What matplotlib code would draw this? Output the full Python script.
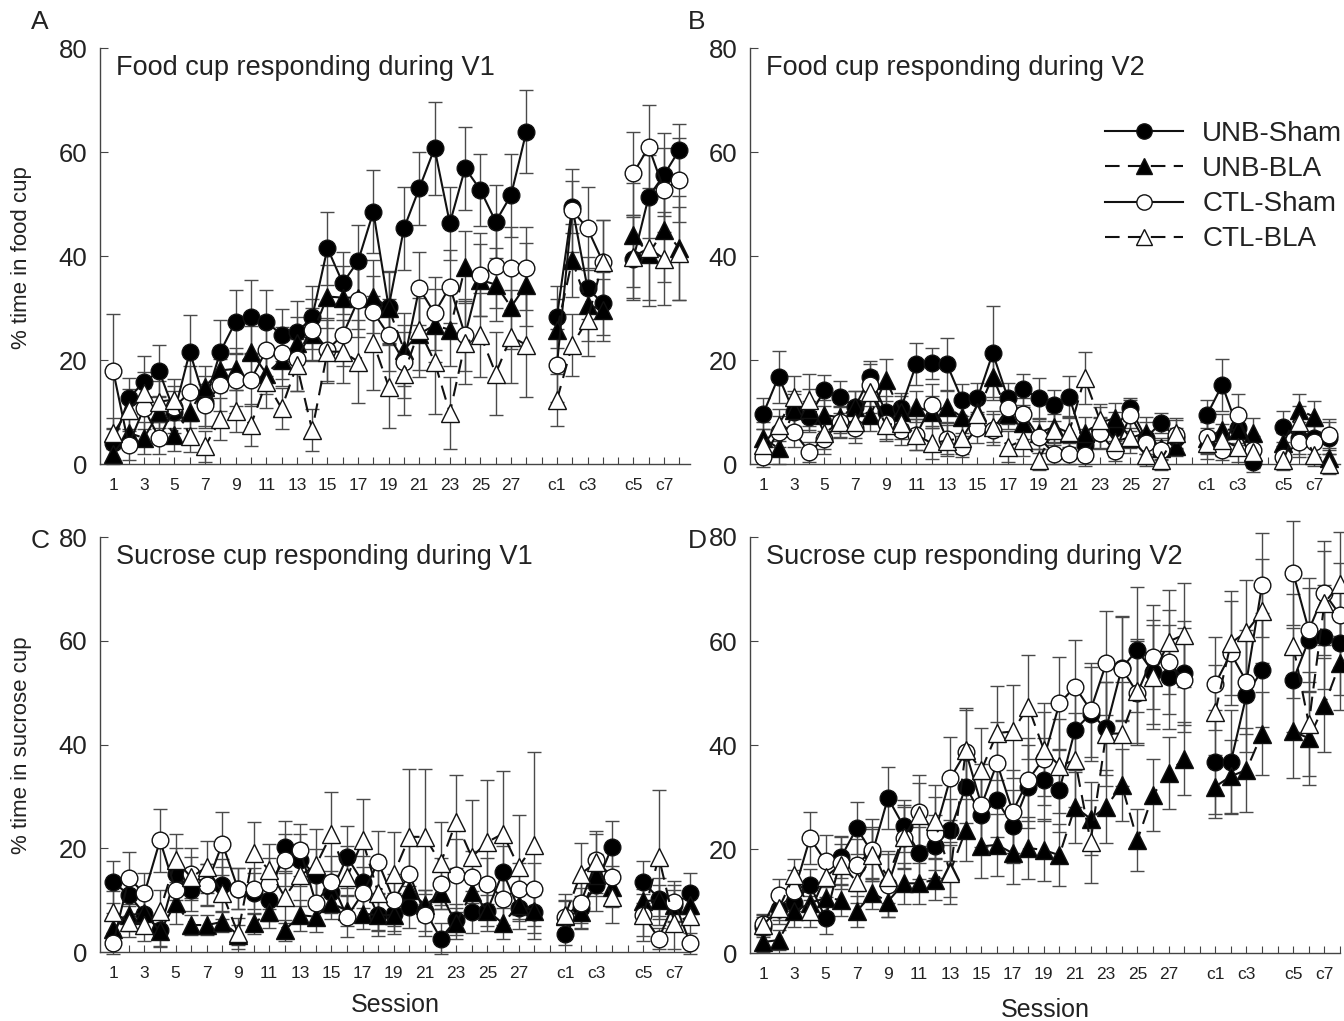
import matplotlib
matplotlib.use("Agg")
import matplotlib.pyplot as plt
from matplotlib.lines import Line2D

plt.rcParams['font.family'] = ['Liberation Sans', 'DejaVu Sans']

# session labels: 28 training sessions, then c1-c4 and c5-c8 blocks
session_labels = [str(i) for i in range(1, 29)] + ['c%d' % i for i in range(1, 9)]
groups = ['UNB-Sham', 'UNB-BLA', 'CTL-Sham', 'CTL-BLA']

# ---- panel A: food cup during V1
a_unb_sham = [4, 12.6, 15.8, 17.8, 10, 21.6, 12, 21.6, 27.4, 28.3, 27.4, 24.8, 25.3, 28.2, 41.5, 34.8, 39.0, 48.5, 30.2, 45.3, 53.0, 60.7, 46.3, 56.9, 52.7, 46.6, 51.7, 63.9, 28.3, 49.5, 33.8, 30.9, 39.5, 51.4, 55.6, 60.4]
a_unb_bla = [2, 6, 5, 10, 5.5, 10, 14.9, 18, 18.3, 21.6, 17.4, 20, 23.3, 25, 32.2, 32, 32, 32.2, 30, 22, 25, 26.7, 25.8, 37.9, 35.4, 34.5, 30.2, 34.5, 25.8, 39.2, 30.6, 29.6, 44, 40.4, 45, 41.5]
a_ctl_sham = [17.8, 3.7, 10.7, 5.0, 11, 13.8, 11.4, 15.2, 16.2, 16.2, 21.9, 21.3, 20.1, 25.8, 22, 24.8, 31.5, 29.2, 24.8, 19.7, 33.8, 29, 34.1, 24.8, 36.4, 38, 37.6, 37.6, 19, 48.8, 45.3, 38.9, 55.9, 61, 52.7, 54.6]
a_ctl_bla = [5.9, 10.4, 13.6, 12, 12.4, 5.3, 3.4, 8.6, 10.2, 7.5, 15.8, 10.7, 19, 6.5, 21.6, 21.6, 19.7, 23.3, 14.9, 17.4, 25.8, 19.7, 9.8, 23.3, 24.8, 17.4, 24.5, 22.9, 12.3, 22.9, 27.7, 38.9, 39.9, 41.5, 39.5, 40.5]
a_unb_sham_err = [3, 4, 5, 5, 4, 7, 5, 6, 6, 7, 6, 5, 6, 6, 7, 6, 7, 8, 7, 8, 7, 9, 7, 8, 7, 7, 8, 8, 6, 5, 6, 6, 8, 8, 8, 5]
a_unb_bla_err = [2, 3, 3, 3, 3, 3, 4, 4, 4, 5, 4, 5, 5, 5, 6, 6, 6, 7, 7, 7, 7, 7, 7, 7, 7, 7, 8, 8, 6, 7, 7, 6, 10, 10, 10, 10]
a_ctl_sham_err = [11, 3, 4, 3, 4, 5, 4, 5, 5, 5, 5, 5, 6, 6, 6, 6, 7, 7, 7, 7, 7, 7, 7, 7, 8, 8, 8, 8, 7, 8, 8, 8, 8, 8, 8, 8]
a_ctl_bla_err = [3, 4, 4, 4, 4, 3, 3, 4, 4, 4, 5, 4, 5, 4, 6, 6, 8, 9, 8, 8, 9, 10, 7, 8, 8, 8, 9, 10, 5, 6, 7, 8, 8, 10, 9, 9]

# ---- panel B: food cup during V2
b_unb_sham = [9.7, 16.8, 10, 9.1, 14.2, 12.9, 11, 16.8, 10, 10.7, 19.2, 19.4, 19.2, 12.3, 12.6, 21.3, 12.6, 14.4, 12.6, 11.3, 12.9, 3.7, 6, 7, 10.7, 5, 7.9, 5, 9.4, 15.2, 7, 0.4, 7.2, 5, 5, 5]
b_unb_bla = [5, 3, 10.4, 10.5, 9.4, 9, 11, 9.4, 16.2, 10, 11, 10, 11, 9, 10, 16.8, 9.7, 7.9, 5.9, 7.2, 6, 6, 8, 8.8, 5, 6, 3, 3.5, 5, 6.6, 6.6, 5.9, 4, 10.4, 9.1, 1.1]
b_ctl_sham = [1.4, 6.2, 6.2, 2.3, 4.9, 8, 7, 15.2, 7.9, 6.6, 5.6, 11.4, 4.9, 3.3, 7, 6.6, 10.7, 9.7, 5.2, 2, 2, 1.7, 5.9, 2.5, 9.4, 4, 2.7, 5.5, 5.2, 2.7, 9.4, 2.7, 1.4, 4.3, 4.3, 5.6]
b_ctl_bla = [3.7, 7.5, 12.9, 12.3, 5.9, 8.1, 8, 13.9, 7.5, 7.9, 5.6, 4, 4.5, 5, 9.7, 7.2, 3.3, 4.6, 0.8, 6.6, 6.2, 16.5, 8.5, 4.3, 5.2, 1.7, 0.8, 5.9, 4, 4.6, 3.3, 2.3, 0.8, 8.1, 1.7, 0]
b_unb_sham_err = [3, 5, 4, 3, 3, 3, 3, 3, 3, 3, 4, 3, 5, 3, 3, 9, 3, 3, 4, 3, 4, 3, 3, 3, 2, 3, 2, 2, 3, 5, 3, 2, 3, 3, 3, 3]
b_unb_bla_err = [3, 3, 3, 4, 3, 3, 3, 3, 4, 3, 3, 3, 3, 3, 3, 4, 3, 3, 3, 3, 3, 3, 3, 3, 2, 3, 2, 2, 3, 3, 3, 3, 2, 3, 3, 2]
b_ctl_sham_err = [2, 3, 3, 2, 3, 3, 3, 4, 3, 3, 3, 4, 3, 2, 3, 3, 3, 3, 3, 2, 2, 2, 3, 2, 3, 2, 2, 3, 3, 2, 4, 2, 2, 3, 3, 3]
b_ctl_bla_err = [3, 3, 4, 5, 3, 3, 3, 4, 3, 3, 3, 3, 3, 3, 4, 3, 3, 3, 2, 3, 3, 5, 3, 3, 3, 2, 2, 3, 3, 3, 3, 3, 2, 3, 2, 2]

# ---- panel C: sucrose cup during V1
c_unb_sham = [13.5, 11, 7.4, 4.2, 15, 11.9, 13, 12.9, 12.2, 11.3, 10, 20.3, 17.7, 14.8, 11.6, 18.3, 13.5, 7.1, 7.4, 8.7, 8, 2.6, 6.2, 7.7, 8, 15.4, 8.4, 7.7, 3.4, 8.4, 13, 20.3, 13.5, 10.3, 9, 11.3]
c_unb_bla = [4.5, 7.1, 7.5, 4, 9.4, 5.2, 5.2, 5.8, 3.3, 5.5, 7.7, 4.2, 7.1, 6.8, 9.4, 8, 7.4, 7.1, 7.1, 12, 9, 11.3, 5.5, 11.6, 8, 5.5, 9, 8, 7, 7.7, 14.8, 12.6, 9.8, 10, 9, 9]
c_ctl_sham = [1.7, 14.2, 11.3, 21.5, 11.9, 15.1, 12.9, 20.9, 12.2, 12.2, 13.2, 17.7, 19.6, 9.4, 13.5, 6.8, 11.3, 17.3, 10, 15.1, 7.1, 13.2, 14.8, 14.4, 13.2, 10.3, 12.2, 12.2, 6.8, 9.5, 17.7, 14.4, 7.1, 2.6, 9.7, 1.7]
c_ctl_bla = [7.7, 5.8, 5.2, 8, 17.7, 14.4, 16.4, 11.3, 3.6, 19, 15.8, 10.6, 14.8, 16.7, 22.8, 14.4, 21.5, 11.3, 15.1, 22.2, 22.2, 17.1, 25.1, 18.3, 21.2, 22.8, 16.4, 20.6, 7.1, 15.1, 17.3, 10.6, 7.1, 18.3, 5.5, 7]
c_unb_sham_err = [4, 4, 3, 3, 5, 4, 4, 5, 4, 4, 4, 5, 5, 5, 4, 6, 5, 4, 4, 4, 4, 3, 3, 4, 4, 5, 4, 4, 2, 4, 5, 5, 4, 4, 4, 4]
c_unb_bla_err = [3, 3, 3, 3, 4, 2, 2, 2, 2, 2, 3, 2, 3, 3, 3, 3, 3, 3, 3, 3, 3, 3, 3, 3, 3, 3, 3, 3, 3, 3, 4, 4, 3, 3, 3, 3]
c_ctl_sham_err = [2, 5, 4, 6, 4, 5, 4, 6, 4, 4, 5, 5, 5, 4, 5, 4, 5, 6, 5, 6, 4, 5, 7, 5, 5, 5, 5, 5, 3, 4, 5, 5, 4, 2, 4, 2]
c_ctl_bla_err = [4, 3, 3, 4, 5, 4, 5, 5, 3, 6, 5, 5, 6, 7, 8, 6, 8, 7, 8, 13, 13, 8, 9, 11, 12, 12, 10, 18, 4, 6, 6, 5, 5, 13, 5, 5]

# ---- panel D: sucrose cup during V2
d_unb_sham = [5, 8.4, 9.6, 13.1, 6.7, 18.5, 24, 19.2, 29.8, 24.4, 19.2, 20.5, 23.7, 32, 26.5, 29.4, 24.4, 32, 33.3, 31.3, 42.9, 46, 43.2, 54.8, 58.3, 54, 53.1, 53.8, 36.8, 36.8, 49.6, 54.4, 52.5, 60.2, 60.8, 59.6]
d_unb_bla = [2.1, 2.5, 8, 9.6, 10.6, 10.2, 8, 11.5, 9.9, 13.4, 13.4, 14.1, 15.7, 23.7, 20.5, 20.8, 19.2, 20.2, 19.8, 18.8, 28.1, 25.8, 28.1, 32.3, 21.7, 30.4, 34.6, 37.4, 32, 34, 35.2, 42.2, 42.6, 41.3, 47.7, 55.7]
d_ctl_sham = [5.5, 11.2, 12, 22.1, 17.6, 17.3, 17, 19.8, 13, 22.1, 27.2, 23, 33.6, 38.7, 28.4, 36.5, 27.2, 33.3, 37.4, 48, 51.2, 46.7, 55.7, 54.7, 50, 57, 56, 52.5, 51.8, 57.6, 52.2, 70.8, 73, 62.1, 69.2, 65]
d_ctl_bla = [5.4, 8.6, 15, 8, 14.7, 17, 13.7, 18.8, 14.7, 22.4, 26.6, 25.3, 15.4, 39.1, 35.2, 42.3, 42.6, 47.4, 39.1, 36, 37.1, 21.4, 42.2, 42.2, 50.3, 53.1, 59.9, 61.2, 46.4, 59.6, 61.8, 65.7, 59, 44.1, 67.3, 71]
d_unb_sham_err = [2, 2, 3, 3, 3, 4, 5, 5, 6, 5, 5, 6, 6, 7, 7, 7, 7, 8, 8, 8, 8, 9, 9, 10, 12, 10, 10, 10, 10, 10, 11, 11, 10, 10, 10, 10]
d_unb_bla_err = [2, 2, 3, 3, 3, 3, 3, 3, 3, 4, 4, 4, 5, 6, 6, 6, 6, 6, 6, 6, 7, 7, 7, 7, 6, 7, 7, 7, 6, 7, 8, 8, 9, 9, 9, 9]
d_ctl_sham_err = [2, 3, 4, 5, 5, 5, 5, 6, 6, 6, 7, 7, 8, 8, 8, 8, 8, 8, 9, 9, 9, 9, 10, 10, 10, 10, 10, 10, 9, 10, 10, 10, 10, 10, 10, 10]
d_ctl_bla_err = [2, 3, 3, 3, 4, 4, 4, 5, 5, 6, 6, 7, 6, 8, 8, 9, 9, 10, 9, 9, 9, 8, 10, 10, 10, 10, 10, 10, 9, 10, 10, 10, 10, 10, 10, 10]

# x positions: one blank slot before c1 and one before c5
xpos = []
for lab in session_labels:
    if lab.startswith('c'):
        k = int(lab[1:])
        xpos.append(29 + k if k <= 4 else 30 + k)
    else:
        xpos.append(int(lab))
segments = [(0, 28), (28, 32), (32, 36)]

styles = {
    'UNB-Sham': dict(marker='o', mfc='black', ls='-', ms=12),
    'UNB-BLA': dict(marker='^', mfc='black', ls=(0, (7, 4)), ms=12.5),
    'CTL-Sham': dict(marker='o', mfc='white', ls='-', ms=12),
    'CTL-BLA': dict(marker='^', mfc='white', ls=(0, (7, 4)), ms=12.5),
}

fig = plt.figure(figsize=(13.44, 10.21), dpi=100)
W, H = 1344, 1021


def make_ax(l, r, t, b):
    return fig.add_axes([l / W, 1 - b / H, (r - l) / W, (b - t) / H])


axA = make_ax(100, 690, 48, 464)
axB = make_ax(750, 1340, 48, 464)
axC = make_ax(100, 690, 537, 952)
axD = make_ax(750, 1340, 537, 953)

panels = [
    (axA, 'Food cup responding during V1', [a_unb_sham, a_unb_bla, a_ctl_sham, a_ctl_bla],
     [a_unb_sham_err, a_unb_bla_err, a_ctl_sham_err, a_ctl_bla_err], (0.13, 38.7)),
    (axB, 'Food cup responding during V2', [b_unb_sham, b_unb_bla, b_ctl_sham, b_ctl_bla],
     [b_unb_sham_err, b_unb_bla_err, b_ctl_sham_err, b_ctl_bla_err], (0.13, 38.7)),
    (axC, 'Sucrose cup responding during V1', [c_unb_sham, c_unb_bla, c_ctl_sham, c_ctl_bla],
     [c_unb_sham_err, c_unb_bla_err, c_ctl_sham_err, c_ctl_bla_err], (0.15, 37.95)),
    (axD, 'Sucrose cup responding during V2', [d_unb_sham, d_unb_bla, d_ctl_sham, d_ctl_bla],
     [d_unb_sham_err, d_unb_bla_err, d_ctl_sham_err, d_ctl_bla_err], (0.15, 37.95)),
]

shown = {'1', '3', '5', '7', '9', '11', '13', '15', '17', '19', '21', '23', '25', '27', 'c1', 'c3', 'c5', 'c7'}
tick_pos = list(range(1, 39))
tick_lab = []
for p in tick_pos:
    lab = ''
    for x, s in zip(xpos, session_labels):
        if x == p and s in shown:
            lab = s
    tick_lab.append(lab)

for ax, title, series, errs, xl in panels:
    for g, y, e in zip(groups, series, errs):
        st = styles[g]
        ax.errorbar(xpos, y, yerr=e, fmt='none', ecolor='#4a4a4a', elinewidth=1.0,
                    capsize=5, capthick=1.0, zorder=2, clip_on=False)
        for a, b in segments:
            ax.plot(xpos[a:b], y[a:b], color='#111111', lw=1.5, ls=st['ls'],
                    marker=st['marker'], ms=st['ms'], mfc=st['mfc'], mec='#111111',
                    mew=1.0, zorder=3, clip_on=False)
    ax.set_xlim(*xl)
    ax.set_ylim(0, 80)
    ax.set_yticks([0, 20, 40, 60, 80])
    ax.set_xticks(tick_pos)
    ax.set_xticklabels(tick_lab, fontsize=12.5, color='#222222')
    ax.tick_params(axis='x', direction='in', length=5, pad=10, color='#444444')
    ax.tick_params(axis='y', direction='in', length=6, pad=9, labelsize=18.5,
                   labelcolor='#222222', color='#444444')
    for sp in ['top', 'right']:
        ax.spines[sp].set_visible(False)
    for sp in ['left', 'bottom']:
        ax.spines[sp].set_color('#444444')
        ax.spines[sp].set_linewidth(1.0)
    ax.text(0.027, 0.952, title, transform=ax.transAxes, fontsize=19.5,
            color='#222222', va='center', ha='left')

fig.text(40 / W, 1 - 22 / H, 'A', fontsize=19, ha='center', va='center', color='#222222')
fig.text(697 / W, 1 - 22 / H, 'B', fontsize=19, ha='center', va='center', color='#222222')
fig.text(40 / W, 1 - 541 / H, 'C', fontsize=19, ha='center', va='center', color='#222222')
fig.text(697 / W, 1 - 541 / H, 'D', fontsize=19, ha='center', va='center', color='#222222')

fig.text(22 / W, 1 - 258 / H, '% time in food cup', rotation=90, fontsize=16,
         ha='center', va='center', color='#222222')
fig.text(22 / W, 1 - 745 / H, '% time in sucrose cup', rotation=90, fontsize=16,
         ha='center', va='center', color='#222222')
fig.text(395 / W, 1 - 1005 / H, 'Session', fontsize=18, ha='center', va='center', color='#222222')
fig.text(1045 / W, 1 - 1010 / H, 'Session', fontsize=18, ha='center', va='center', color='#222222')

handles = []
for g in groups:
    st = styles[g]
    handles.append(Line2D([], [], color='#111111', lw=1.5, ls=st['ls'], marker=st['marker'],
                          ms=st['ms'] - 1, mfc=st['mfc'], mec='#111111'))
fig.legend(handles, groups, loc='upper left', bbox_to_anchor=(1105 / W, 1 - 121 / H),
           frameon=False, fontsize=20, handlelength=2.8, handletextpad=0.7,
           labelspacing=0.33, borderaxespad=0, borderpad=0, labelcolor='#222222')

fig.savefig('out.png', dpi=100)
